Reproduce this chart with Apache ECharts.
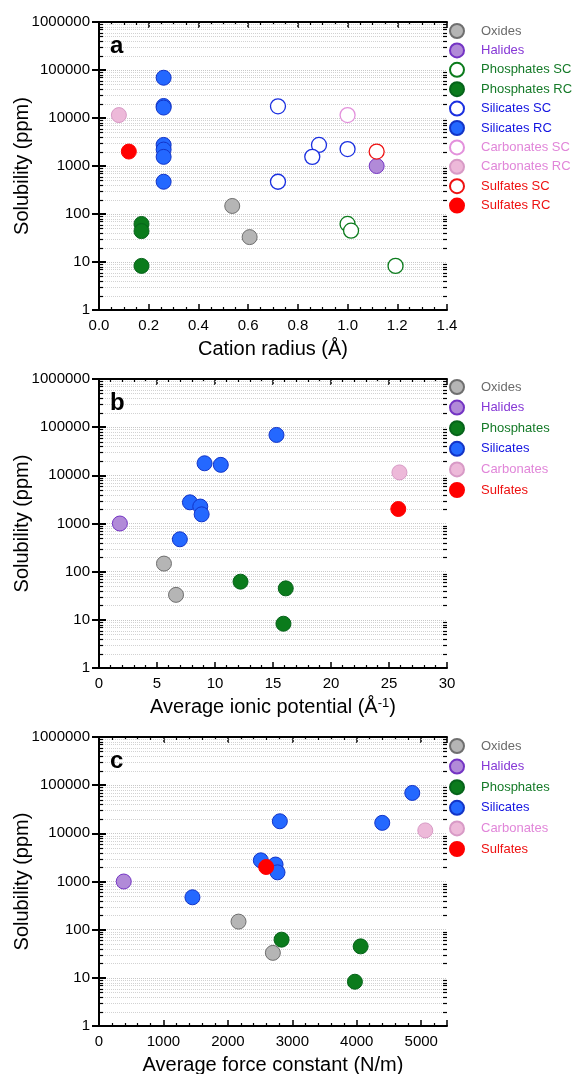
<!DOCTYPE html>
<html>
<head>
<meta charset="utf-8">
<script src="https://cdn.jsdelivr.net/npm/echarts@6/dist/echarts.min.js"></script>
<style>
  html, body { margin: 0; padding: 0; background: #fff; }
  #chart { width: 580px; height: 1074px; }
</style>
</head>
<body>
<div id="chart"></div>
<script>
// panel a: cation radius (Å) vs solubility (ppm)
const oxidesA = [[0.536, 147], [0.606, 33]];
const halidesA = [[1.117, 1000]];
const phosphatesScA = [[1.0, 62], [1.014, 45], [1.193, 8.3]];
const phosphatesRcA = [[0.171, 62], [0.171, 44], [0.171, 8.3]];
const silicatesScA = [[0.72, 17500], [0.72, 470], [0.885, 2750], [0.858, 1550], [1.0, 2250]];
const silicatesRcA = [[0.26, 69000], [0.26, 17800], [0.26, 16500], [0.26, 2750], [0.26, 2200], [0.26, 1550], [0.26, 470]];
const carbonatesScA = [[1.0, 11500]];
const carbonatesRcA = [[0.08, 11500]];
const sulfatesScA = [[1.117, 2000]];
const sulfatesRcA = [[0.12, 2000]];

// panel b: average ionic potential (1/Å) vs solubility
const oxidesB = [[5.6, 147], [6.64, 33]];
const halidesB = [[1.8, 1000]];
const phosphatesB = [[12.2, 62], [16.1, 45], [15.9, 8.3]];
const silicatesB = [[6.97, 470], [7.84, 2750], [8.73, 2250], [8.85, 1550], [9.1, 17800], [10.5, 16500], [15.3, 69000]];
const carbonatesB = [[25.9, 11500]];
const sulfatesB = [[25.8, 2000]];

// panel c: average force constant (N/m) vs solubility
const oxidesC = [[2165, 147], [2698, 33]];
const halidesC = [[384, 1000]];
const phosphatesC = [[2833, 62], [4060, 45], [3971, 8.3]];
const silicatesC = [[1450, 470], [2511, 2750], [2740, 2250], [2770, 1550], [2806, 17800], [4395, 16500], [4861, 69000]];
const carbonatesC = [[5063, 11500]];
const sulfatesC = [[2594, 2000]];

// log axis minor positions (2..9 in every decade)
const minorMult = [2, 3, 4, 5, 6, 7, 8, 9];
const decades = [1, 10, 100, 1000, 10000, 100000];

const FONT = '"Liberation Sans", Arial, sans-serif';

const styles = {
  oxides: { color: '#b5b5b5', borderColor: '#6f6f6f', borderWidth: 1, opacity: 1 },
  halides: { color: '#b18ad8', borderColor: '#7434c4', borderWidth: 1, opacity: 1 },
  phosphates: { color: '#0b7b1c', borderColor: '#06631a', borderWidth: 1, opacity: 1 },
  phosphatesSC: { color: '#fff', borderColor: '#0b7b1c', borderWidth: 1.3, opacity: 1 },
  silicates: { color: '#2468ff', borderColor: '#1234c8', borderWidth: 1, opacity: 1 },
  silicatesSC: { color: '#fff', borderColor: '#1a2fe0', borderWidth: 1.3, opacity: 1 },
  carbonates: { color: '#edb9d9', borderColor: '#d89ac6', borderWidth: 1, opacity: 1 },
  carbonatesSC: { color: '#fff', borderColor: '#e391dc', borderWidth: 1.3, opacity: 1 },
  sulfates: { color: '#ff0000', borderColor: '#ff0000', borderWidth: 1, opacity: 1 },
  sulfatesSC: { color: '#fff', borderColor: '#ee1111', borderWidth: 1.3, opacity: 1 }
};
const textColors = {
  Oxides: '#6b6b6b', Halides: '#8638d6', Phosphates: '#157a28',
  Silicates: '#1313e0', Carbonates: '#e186d9', Sulfates: '#ee1111'
};

const grids = [
  { left: 99, top: 22, width: 348, height: 288, outerBoundsMode: 'none', containLabel: false },
  { left: 99, top: 379, width: 348, height: 289, outerBoundsMode: 'none', containLabel: false },
  { left: 99, top: 737, width: 348, height: 289, outerBoundsMode: 'none', containLabel: false }
];

function scat(name, data, g, st) {
  return {
    name: name, type: 'scatter', data: data,
    xAxisIndex: g * 2, yAxisIndex: g * 2,
    symbol: 'circle', symbolSize: 15,
    itemStyle: st, z: 5
  };
}

const minorVals = [];
decades.forEach(d => minorMult.forEach(m => minorVals.push(d * m)));

function minorSeries(g, xmin) {
  return {
    type: 'custom', silent: true, z: 1,
    xAxisIndex: g * 2, yAxisIndex: g * 2,
    data: minorVals.map(v => [xmin, v]),
    renderItem: function (params, api) {
      const cs = params.coordSys;
      const y = Math.round(api.coord([api.value(0), api.value(1)])[1]) + 0.5;
      return {
        type: 'group',
        children: [
          { type: 'line', shape: { x1: cs.x, y1: y, x2: cs.x + cs.width, y2: y },
            style: { stroke: '#d2d2d2', lineWidth: 1, lineDash: [1, 1] } },
          { type: 'line', shape: { x1: cs.x, y1: y, x2: cs.x + 4, y2: y },
            style: { stroke: '#000', lineWidth: 1.2 } },
          { type: 'line', shape: { x1: cs.x + cs.width - 4, y1: y, x2: cs.x + cs.width, y2: y },
            style: { stroke: '#000', lineWidth: 1.2 } }
        ]
      };
    }
  };
}

const axisLine = { lineStyle: { color: '#000', width: 2 } };

function xAxes(g, min, max, interval, minorSplit, name, showMax) {
  const common = {
    type: 'value', gridIndex: g, min: min, max: max, interval: interval,
    axisLine: axisLine, splitLine: { show: false },
    axisTick: { inside: true, length: 6, lineStyle: { color: '#000', width: 1.5 } },
    minorTick: { show: true, splitNumber: minorSplit, length: 3, lineStyle: { color: '#000', width: 1.2 } }
  };
  return [
    Object.assign({}, common, {
      position: 'bottom',
      name: name, nameLocation: 'middle', nameGap: 29, nameMoveOverlap: false,
      nameTextStyle: {
        fontFamily: FONT, fontSize: 20, color: '#000',
        rich: { s: { fontFamily: FONT, fontSize: 13, color: '#000', verticalAlign: 'top' } }
      },
      axisLabel: {
        margin: 8, fontFamily: FONT, fontSize: 15, color: '#000', showMaxLabel: showMax,
        formatter: v => interval < 1 ? v.toFixed(1) : String(v)
      }
    }),
    Object.assign({}, common, { position: 'top', axisLabel: { show: false } })
  ];
}

function yAxes(g) {
  const common = {
    type: 'log', logBase: 10, gridIndex: g, min: 1, max: 1000000, splitNumber: 6,
    axisLine: axisLine,
    axisTick: { inside: true, length: 7, lineStyle: { color: '#000', width: 2 } }
  };
  return [
    Object.assign({}, common, {
      position: 'left',
      name: 'Solubility (ppm)', nameLocation: 'middle', nameGap: 67, nameMoveOverlap: false,
      nameTextStyle: { fontFamily: FONT, fontSize: 20, color: '#000' },
      splitLine: { show: true, lineStyle: { color: '#c8c8c8', width: 1, type: [1, 1] } },
      axisLabel: { margin: 9, fontFamily: FONT, fontSize: 15, color: '#000', formatter: v => String(Math.round(v)) }
    }),
    Object.assign({}, common, { position: 'right', splitLine: { show: false }, axisLabel: { show: false } })
  ];
}

function legend(top, gap, names) {
  return {
    orient: 'vertical', left: 449, top: top, itemGap: gap, padding: 0,
    itemWidth: 38, itemHeight: 14, icon: 'circle',
    textStyle: { fontFamily: FONT, fontSize: 13 },
    data: names.map(n => ({ name: n, textStyle: { color: textColors[n.split(' ')[0]] } }))
  };
}

const namesA = ['Oxides', 'Halides', 'Phosphates SC', 'Phosphates RC', 'Silicates SC', 'Silicates RC',
  'Carbonates SC', 'Carbonates RC', 'Sulfates SC', 'Sulfates RC'];
const namesBC = ['Oxides', 'Halides', 'Phosphates', 'Silicates', 'Carbonates', 'Sulfates'];

const letterStyle = { fontFamily: FONT, fontSize: 24, fontWeight: 'bold', color: '#000' };

const option = {
  animation: false,
  backgroundColor: '#fff',
  textStyle: { fontFamily: FONT },
  title: [
    { text: 'a', left: 110, top: 34, padding: 0, textStyle: letterStyle },
    { text: 'b', left: 110, top: 391, padding: 0, textStyle: letterStyle },
    { text: 'c', left: 110, top: 749, padding: 0, textStyle: letterStyle }
  ],
  grid: grids,
  legend: [legend(23, 3.4, namesA), legend(379, 4.6, namesBC), legend(738, 4.6, namesBC)],
  xAxis: [].concat(
    xAxes(0, 0, 1.4, 0.2, 4, 'Cation radius (Å)', true),
    xAxes(1, 0, 30, 5, 5, 'Average ionic potential (Å{s|-1})', true),
    xAxes(2, 0, 5400, 1000, 5, 'Average force constant (N/m)', false)
  ),
  yAxis: [].concat(yAxes(0), yAxes(1), yAxes(2)),
  series: [
    minorSeries(0, 0), minorSeries(1, 0), minorSeries(2, 0),
    scat('Oxides', oxidesA, 0, styles.oxides),
    scat('Halides', halidesA, 0, styles.halides),
    scat('Phosphates SC', phosphatesScA, 0, styles.phosphatesSC),
    scat('Phosphates RC', phosphatesRcA, 0, styles.phosphates),
    scat('Silicates SC', silicatesScA, 0, styles.silicatesSC),
    scat('Silicates RC', silicatesRcA, 0, styles.silicates),
    scat('Carbonates SC', carbonatesScA, 0, styles.carbonatesSC),
    scat('Carbonates RC', carbonatesRcA, 0, styles.carbonates),
    scat('Sulfates SC', sulfatesScA, 0, styles.sulfatesSC),
    scat('Sulfates RC', sulfatesRcA, 0, styles.sulfates),

    scat('Oxides', oxidesB, 1, styles.oxides),
    scat('Halides', halidesB, 1, styles.halides),
    scat('Phosphates', phosphatesB, 1, styles.phosphates),
    scat('Silicates', silicatesB, 1, styles.silicates),
    scat('Carbonates', carbonatesB, 1, styles.carbonates),
    scat('Sulfates', sulfatesB, 1, styles.sulfates),

    scat('Oxides', oxidesC, 2, styles.oxides),
    scat('Halides', halidesC, 2, styles.halides),
    scat('Phosphates', phosphatesC, 2, styles.phosphates),
    scat('Silicates', silicatesC, 2, styles.silicates),
    scat('Carbonates', carbonatesC, 2, styles.carbonates),
    scat('Sulfates', sulfatesC, 2, styles.sulfates)
  ]
};

const myChart = echarts.init(document.getElementById('chart'), null, { renderer: 'canvas' });
myChart.setOption(option);
</script>
</body>
</html>
